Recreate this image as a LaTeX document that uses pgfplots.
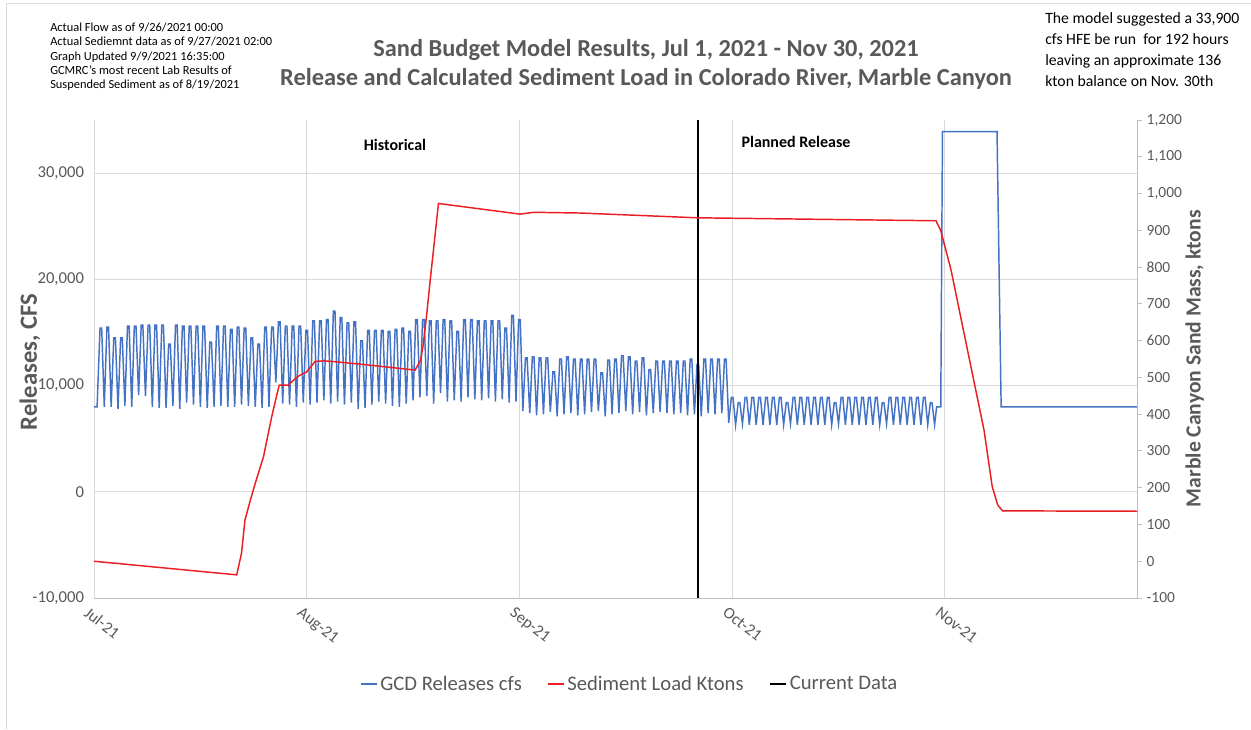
\documentclass[border=0pt]{standalone}
\usepackage{fontspec}
\setmainfont{Carlito}
\usepackage{pgfplots}
\pgfplotsset{compat=1.18}
\definecolor{tg}{RGB}{89,89,89}
\definecolor{xlblue}{RGB}{68,114,196}
\definecolor{xlred}{RGB}{235,30,35}
\definecolor{gridc}{RGB}{217,217,217}
\definecolor{axc}{RGB}{191,191,191}
\begin{document}
\begin{tikzpicture}
\useasboundingbox (0,0) rectangle (938.25pt,-546.75pt);
\fill[white] (0,0) rectangle (938.25pt,-546.75pt);
\draw[gridc, line width=0.75pt] (4.5pt,-546.75pt) -- (4.5pt,-2.25pt) -- (938.25pt,-2.25pt);

\begin{axis}[
  at={(70.5pt,-448.5pt)}, anchor=south west,
  scale only axis, width=782.25pt, height=358.5pt,
  xmin=0, xmax=152, ymin=-10000, ymax=35000,
  axis x line*=bottom, axis y line*=left,
  x axis line style={draw=axc, line width=0.75pt, -},
  y axis line style={draw=none},
  xtick={0,31,62,93,124},
  xticklabels={Jul-21,Aug-21,Sep-21,Oct-21,Nov-21},
  ytick={-10000,0,10000,20000,30000},
  major tick length=0pt,
  grid=major, grid style={gridc, line width=0.75pt},
  scaled y ticks=false,
  /pgf/number format/assume math mode=true,
  yticklabel style={/pgf/number format/1000 sep={,}, xshift=-4pt, font=\fontsize{12.5}{14}\selectfont},
  tick label style={text=tg},
  xticklabel style={rotate=-38, anchor=north west, xshift=-2pt, yshift=-3pt, font=\fontsize{12.3}{14}\selectfont},
  legend style={at={(0.514,-0.18)}, anchor=center, draw=none, fill=none,
    legend columns=3, font=\fontsize{15.5}{18}\selectfont, text=tg,
    /tikz/every even column/.append style={column sep=17pt}},
  legend image code/.code={\draw[#1] (0pt,0pt) -- (12pt,0pt);},
]
\addplot[xlblue, line width=1.1pt] coordinates {
(0,8000) (0.45,8000)
(0.88,15400) (1.12,15400) (1.5,8000)
(1.88,15500) (2.12,15500) (2.5,8000)
(2.88,14500) (3.12,14500) (3.5,7800)
(3.88,14500) (4.12,14500) (4.5,8100)
(4.88,15600) (5.12,15600) (5.5,8000)
(5.88,15600) (6.12,15600) (6.5,9100)
(6.88,15700) (7.12,15700) (7.5,9000)
(7.88,15700) (8.12,15700) (8.5,8000)
(8.88,15700) (9.12,15700) (9.5,7900)
(9.88,15700) (10.12,15700) (10.5,7900)
(10.88,13900) (11.12,13900) (11.5,8100)
(11.88,15700) (12.12,15700) (12.5,7800)
(12.88,15600) (13.12,15600) (13.5,8400)
(13.88,15600) (14.12,15600) (14.5,8200)
(14.88,15600) (15.12,15600) (15.5,8000)
(15.88,15600) (16.12,15600) (16.5,7900)
(16.88,14100) (17.12,14100) (17.5,8000)
(17.88,15600) (18.12,15600) (18.5,8100)
(18.88,15600) (19.12,15600) (19.5,8000)
(19.88,15300) (20.12,15300) (20.5,8000)
(20.88,15500) (21.12,15500) (21.5,8200)
(21.88,15400) (22.12,15400) (22.5,8100)
(22.88,14500) (23.12,14500) (23.5,8000)
(23.88,13900) (24.12,13900) (24.5,7900)
(24.88,15500) (25.12,15500) (25.5,8000)
(25.88,15500) (26.12,15500) (26.5,10300)
(26.88,16000) (27.12,16000) (27.5,8300)
(27.88,15600) (28.12,15600) (28.5,8200)
(28.88,15600) (29.12,15600) (29.5,8000)
(29.88,15600) (30.12,15600) (30.5,8400)
(30.88,15200) (31.12,15200) (31.5,8200)
(31.88,16100) (32.12,16100) (32.5,8400)
(32.88,16100) (33.12,16100) (33.5,8600)
(33.88,16200) (34.12,16200) (34.5,8300)
(34.88,17000) (35.12,17000) (35.5,8500)
(35.88,16400) (36.12,16400) (36.5,8200)
(36.88,15900) (37.12,15900) (37.5,8400)
(37.88,16000) (38.12,16000) (38.5,7800)
(38.88,14200) (39.12,14200) (39.5,7900)
(39.88,15200) (40.12,15200) (40.5,8200)
(40.88,15200) (41.12,15200) (41.5,8500)
(41.88,15200) (42.12,15200) (42.5,8300)
(42.88,15100) (43.12,15100) (43.5,8100)
(43.88,15300) (44.12,15300) (44.5,8000)
(44.88,15400) (45.12,15400) (45.5,8300)
(45.88,15100) (46.12,15100) (46.5,8600)
(46.88,16200) (47.12,16200) (47.5,8900)
(47.88,16200) (48.12,16200) (48.5,9000)
(48.88,16100) (49.12,16100) (49.5,8300)
(49.88,16100) (50.12,16100) (50.5,9300)
(50.88,16200) (51.12,16200) (51.5,8500)
(51.88,16100) (52.12,16100) (52.5,8600)
(52.88,15100) (53.12,15100) (53.5,8500)
(53.88,16200) (54.12,16200) (54.5,8900)
(54.88,16200) (55.12,16200) (55.5,8700)
(55.88,16100) (56.12,16100) (56.5,8600)
(56.88,16100) (57.12,16100) (57.5,8800)
(57.88,16100) (58.12,16100) (58.5,8500)
(58.88,16100) (59.12,16100) (59.5,8700)
(59.88,15400) (60.12,15400) (60.5,8400)
(60.88,16600) (61.12,16600) (61.5,8500)
(61.88,16200) (62.12,16200) (62.5,7600)
(62.88,12600) (63.12,12600) (63.5,7400)
(63.88,12700) (64.12,12700) (64.5,7200)
(64.88,12600) (65.12,12600) (65.5,7300)
(65.88,12600) (66.12,12600) (66.5,7500)
(66.88,11300) (67.12,11300) (67.5,7100)
(67.88,12500) (68.12,12500) (68.5,7300)
(68.88,12700) (69.12,12700) (69.5,7400)
(69.88,12500) (70.12,12500) (70.5,7200)
(70.88,12500) (71.12,12500) (71.5,7300)
(71.88,12500) (72.12,12500) (72.5,7500)
(72.88,12500) (73.12,12500) (73.5,7600)
(73.88,11200) (74.12,11200) (74.5,7100)
(74.88,12400) (75.12,12400) (75.5,7300)
(75.88,12500) (76.12,12500) (76.5,7400)
(76.88,12800) (77.12,12800) (77.5,7600)
(77.88,12700) (78.12,12700) (78.5,7300)
(78.88,12300) (79.12,12300) (79.5,7500)
(79.88,12600) (80.12,12600) (80.5,7200)
(80.88,11500) (81.12,11500) (81.5,7400)
(81.88,12300) (82.12,12300) (82.5,7500)
(82.88,12300) (83.12,12300) (83.5,7400)
(83.88,12300) (84.12,12300) (84.5,7300)
(84.88,12300) (85.12,12300) (85.5,7400)
(85.88,12300) (86.12,12300) (86.5,7200)
(86.88,12500) (87.12,12500) (87.5,7300)
(87.88,12000) (88.12,12000) (88.5,7100)
(88.88,12500) (89.12,12500) (89.5,7400)
(89.88,12500) (90.12,12500) (90.5,7300)
(90.88,12500) (91.12,12500) (91.5,7400)
(91.88,12500) (92.12,12500) (92.5,6500)
(92.88,8900) (93.12,8900) (93.5,6300)
(93.88,8400) (94.12,8400) (94.5,6400)
(94.88,8900) (95.12,8900) (95.5,6300)
(95.88,8900) (96.12,8900) (96.5,6300)
(96.88,8900) (97.12,8900) (97.5,6300)
(97.88,8900) (98.12,8900) (98.5,6300)
(98.88,8900) (99.12,8900) (99.5,6300)
(99.88,8900) (100.12,8900) (100.5,6300)
(100.88,8400) (101.12,8400) (101.5,6400)
(101.88,8900) (102.12,8900) (102.5,6300)
(102.88,8900) (103.12,8900) (103.5,6300)
(103.88,8900) (104.12,8900) (104.5,6300)
(104.88,8900) (105.12,8900) (105.5,6300)
(105.88,8900) (106.12,8900) (106.5,6300)
(106.88,8900) (107.12,8900) (107.5,6300)
(107.88,8400) (108.12,8400) (108.5,6400)
(108.88,8900) (109.12,8900) (109.5,6300)
(109.88,8900) (110.12,8900) (110.5,6300)
(110.88,8900) (111.12,8900) (111.5,6300)
(111.88,8900) (112.12,8900) (112.5,6300)
(112.88,8900) (113.12,8900) (113.5,6300)
(113.88,8900) (114.12,8900) (114.5,6300)
(114.88,8400) (115.12,8400) (115.5,6400)
(115.88,8900) (116.12,8900) (116.5,6300)
(116.88,8900) (117.12,8900) (117.5,6300)
(117.88,8900) (118.12,8900) (118.5,6300)
(118.88,8900) (119.12,8900) (119.5,6300)
(119.88,8900) (120.12,8900) (120.5,6300)
(120.88,8900) (121.12,8900) (121.5,6300)
(121.88,8400) (122.12,8400) (122.5,6300)
(122.8,8000) (123.4,8000) (123.65,33900) (131.6,33900) (132.2,8000) (152,8000)
};
\addlegendentry{GCD Releases cfs}
\addlegendimage{xlred, line width=1.1pt}
\addlegendentry{Sediment Load Ktons}
\addplot[black, line width=1.6pt] coordinates {(88,-10000) (88,35000)};
\addlegendentry{Current Data}
\end{axis}

\begin{axis}[
  at={(70.5pt,-448.5pt)}, anchor=south west,
  scale only axis, width=782.25pt, height=358.5pt,
  xmin=0, xmax=152, ymin=-100, ymax=1200,
  axis x line=none, axis y line*=right,
  y axis line style={draw=axc, line width=0.75pt, -},
  ytick distance=100,
  tick align=outside, major tick length=3.75pt,
  ytick style={axc, line width=0.75pt},
  /pgf/number format/assume math mode=true,
  yticklabel style={/pgf/number format/1000 sep={,}, font=\fontsize{11.6}{13}\selectfont, text=tg},
]
\addplot[xlred, line width=1.1pt] coordinates {
(0,0) (20.8,-37) (21.5,22) (22.0,112) (22.8,167) (23.5,212) (24.7,284) (25.2,330)
(25.9,393) (26.7,457) (27.0,479) (28.3,479) (29.1,493) (30.0,506) (31.0,515)
(32.2,543) (33.4,545) (34.9,543) (38.8,536) (46.8,520) (47.6,547) (48.0,592)
(48.5,674) (49.0,765) (50.2,973) (62.1,944) (64.1,949) (70.9,947) (88,934)
(122.7,926) (123.4,899) (124.9,792) (127.3,574) (129.7,357) (130.9,203)
(131.7,153) (132.4,137) (152,136)
};
\end{axis}

\node[font=\fontsize{18.3}{21.75}\selectfont\bfseries, text=tg, align=center] at (484.5pt,-48.4pt)
  {Sand Budget Model Results, Jul 1, 2021 - Nov 30, 2021\\Release and Calculated Sediment Load in Colorado River, Marble Canyon};
\node[rotate=90, font=\fontsize{18.5}{21}\selectfont\bfseries, text=tg] at (22.5pt,-271.5pt) {Releases, CFS};
\node[rotate=90, font=\fontsize{16.2}{19}\selectfont\bfseries, text=tg] at (896pt,-269pt) {Marble Canyon Sand Mass, ktons};
\node[font=\fontsize{12}{14}\selectfont\bfseries, text=black] at (296.25pt,-108.75pt) {Historical};
\node[font=\fontsize{12}{14}\selectfont\bfseries, text=black] at (597pt,-106.5pt) {Planned Release};
\node[anchor=north west, inner sep=0pt, align=left, font=\fontsize{9.3}{10.7}\selectfont, text=black] at (37.5pt,-17pt)
  {Actual Flow as of 9/26/2021 00:00\\Actual Sediemnt data as of 9/27/2021 02:00\\Graph Updated 9/9/2021 16:35:00\\GCMRC's most recent Lab Results of\\Suspended Sediment as of 8/19/2021};
\node[anchor=north west, inner sep=0pt, align=left, font=\fontsize{11.8}{15.75}\selectfont, text=black] at (783.75pt,-9.5pt)
  {The model suggested a 33,900\\cfs HFE be run\ \ for 192 hours\\leaving an approximate 136\\kton balance on Nov. 30th};
\end{tikzpicture}
\end{document}
